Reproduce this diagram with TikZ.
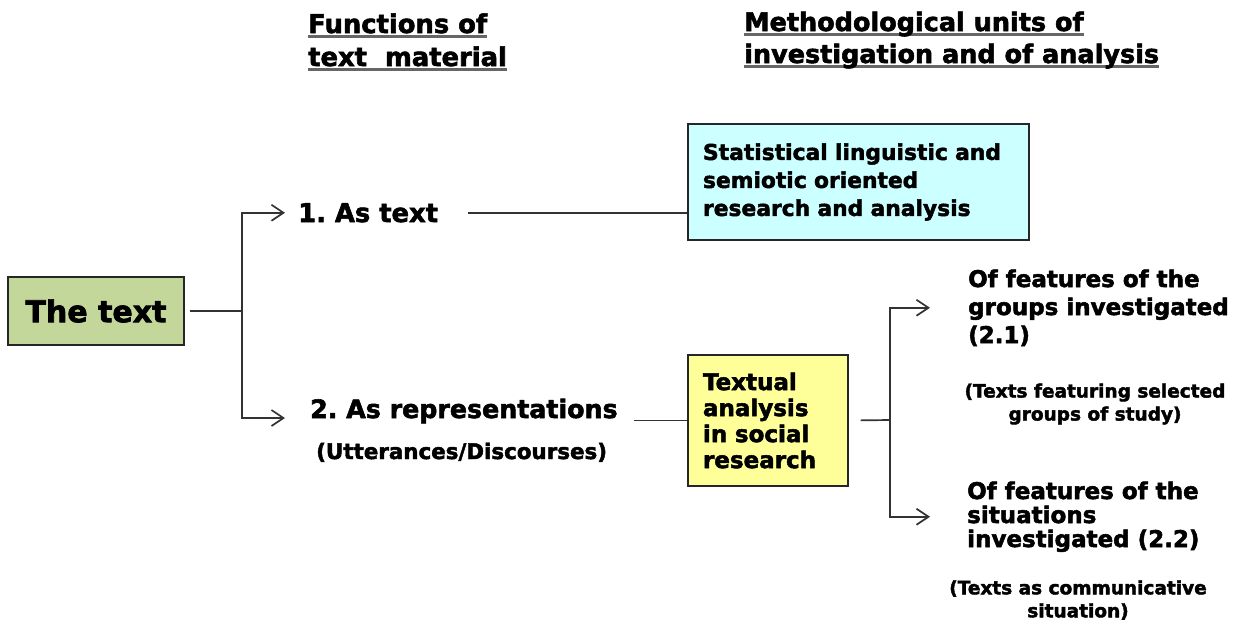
\documentclass[tikz,border=0pt]{standalone}
\usepackage{fontspec}
\setmainfont{DejaVu Sans}[BoldFeatures={FakeBold=2.2}]
\usetikzlibrary{arrows.meta}
\definecolor{tgreen}{HTML}{C4D79B}
\definecolor{tblue}{HTML}{CCFFFF}
\definecolor{tyellow}{HTML}{FFFF99}
% heading line with a heavy grey underline
\newcommand\hdul[1]{\setbox0\hbox{#1}\rlap{\color{black!60}\rule[-5pt]{\wd0}{3pt}}\box0}
\newcommand\fs[2]{\fontsize{#1}{#2}\selectfont\bfseries\frenchspacing}
\begin{document}
\begin{tikzpicture}[x=1pt,y=-1pt,
  lbl/.style={inner sep=0pt, align=left},
  note/.style={inner sep=0pt, align=center, font=\fs{18.5}{23}},
  box/.style={draw=black!85, line width=1.4pt, inner sep=0pt},
  conn/.style={draw=black!80, line width=1.7pt},
  arr/.style={conn, -{Straight Barb[length=12pt,width=16pt,line width=1.7pt]}}]
\path[use as bounding box, fill=white] (0,0) rectangle (1248,624);

% column headings (anchored at the baseline of their last line)
\node[lbl, anchor=base west, font=\fs{25.8}{33}] (hfun) at (308,66)
  {\hdul{Functions of}\\\hdul{text\ \ material}};
\node[lbl, anchor=base west, font=\fs{25.5}{32}] (hmeth) at (744,63)
  {\hdul{Methodological units of}\\\hdul{investigation and of analysis}};

% root
\node[box, fill=tgreen, minimum width=176pt, minimum height=68pt, font=\fs{30}{36}]
  (thetext) at (96,311) {The text};

% functions of the text material
\node[lbl, anchor=base west, font=\fs{25.8}{32}] (as1) at (298,222) {1. As text};
\node[lbl, anchor=base west, font=\fs{25.3}{30}] (as2) at (310,418) {2. As representations};
\node[lbl, anchor=base west, font=\fs{21.4}{24}] (utt) at (316,459) {(Utterances/Discourses)};

% methodological units
\node[box, fill=tblue, minimum width=341pt, minimum height=116pt, text width=311pt,
  align=left, font=\fs{21.8}{28}] (stat) at (858.5,182)
  {Statistical linguistic and\\semiotic oriented\\research and analysis};
\node[box, fill=tyellow, minimum width=160pt, minimum height=131pt, text width=130pt,
  align=left, font=\fs{23}{26}] (tasr) at (768,420.5)
  {Textual\\analysis\\in social\\research};

% features investigated
\node[lbl, anchor=base west, font=\fs{23}{28}] (g21) at (968,343)
  {Of features of the\\groups investigated\\(2.1)};
\node[note] (n21) at (1095,404) {(Texts featuring selected\\groups of study)};
\node[lbl, anchor=base west, font=\fs{23}{24}] (g22) at (967,547)
  {Of features of the\\situations\\investigated (2.2)};
\node[note] (n22) at (1078,600) {(Texts as communicative\\situation)};

% connectors
\coordinate (j1) at (242,311);
\coordinate (j2) at (890,420);
\draw[conn, shorten <=5pt] (thetext.east) -- (j1);
\draw[arr, shorten >=13pt] (j1) |- (as1.west);
\draw[arr, shorten >=25pt] (j1) |- (as2.base west);
\draw[conn, shorten <=30pt] (as1.east) -- (as1.east -| stat.west);
\draw[conn, shorten <=16pt] (tasr.west -| as2.east) -- (tasr.west);
\draw[conn, shorten <=12pt] (tasr.east) -- (j2);
\draw[arr, shorten >=38pt] (j2) |- (g21.west);
\draw[arr, shorten >=37pt] (j2) |- (g22.west);
\end{tikzpicture}
\end{document}
